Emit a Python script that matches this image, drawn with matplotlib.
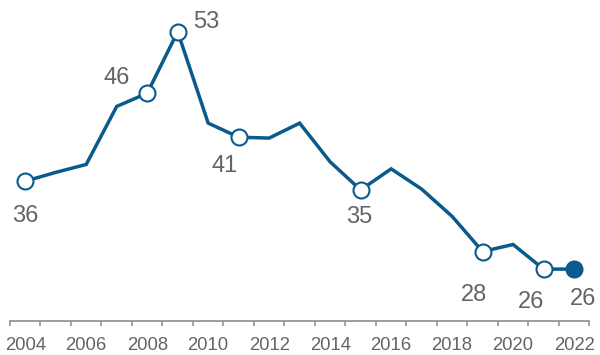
import matplotlib
matplotlib.use("Agg")
import matplotlib.pyplot as plt
from matplotlib.ticker import FixedLocator

# Yearly series
years = [2004, 2005, 2006, 2007, 2008, 2009, 2010, 2011, 2012, 2013,
         2014, 2015, 2016, 2017, 2018, 2019, 2020, 2021, 2022]
values = [36, 37.0, 37.9, 44.5, 46, 53, 42.6, 41, 40.9, 42.6,
          38.2, 35, 37.4, 35.1, 32.0, 28, 28.8, 26, 26]

# Points that carry a value label, with label offsets in pixels
labeled_years = [2004, 2008, 2009, 2011, 2015, 2019, 2021, 2022]
label_offsets = {2004: (0, -32), 2008: (-31, 18), 2009: (29, 12.5),
                 2011: (-14, -26), 2015: (-1.5, -25), 2019: (-9, -41),
                 2021: (-13, -30), 2022: (9, -27)}

tick_labels = [str(y) for y in range(2004, 2023, 2)]

LINE = "#0a5b8c"
TEXT = "#616569"
AXIS = "#8c8c8c"

plt.rcParams["font.family"] = ["Liberation Sans", "DejaVu Sans"]

fig = plt.figure(figsize=(6.0, 3.55), dpi=100)
ax = fig.add_axes([10 / 600, 1 - 321 / 355, 579.3 / 600, 321 / 355])

ax.plot(years, values, color=LINE, lw=2.5, solid_joinstyle="miter", zorder=2)

for y in labeled_years:
    v = values[years.index(y)]
    face = LINE if y == years[-1] else "white"
    ax.plot([y], [v], marker="o", ms=11.5, mfc=face, mec=LINE, mew=1.5,
            zorder=3)
    dx, dy = label_offsets[y]
    ax.annotate(f"{v:g}", (y, v), xytext=(dx, dy), textcoords="offset pixels",
                ha="center", va="center_baseline", fontsize=17, color=TEXT)

ax.set_xlim(2003.5, 2022.5)
ax.set_ylim(20.1, 56.6)

for side in ("top", "right", "left"):
    ax.spines[side].set_visible(False)
ax.spines["bottom"].set_color(AXIS)
ax.spines["bottom"].set_linewidth(1.2)

ax.set_yticks([])
ax.xaxis.set_major_locator(FixedLocator(list(range(2004, 2023, 2))))
ax.set_xticklabels(tick_labels)
ax.xaxis.set_minor_locator(FixedLocator([y + 0.5 for y in range(2003, 2023)]))
ax.tick_params(axis="x", which="major", length=0, pad=11.5, labelsize=13.3,
               labelcolor=TEXT)
ax.tick_params(axis="x", which="minor", length=3.4, width=1.1, color=AXIS)

fig.savefig("out.png", dpi=100)
